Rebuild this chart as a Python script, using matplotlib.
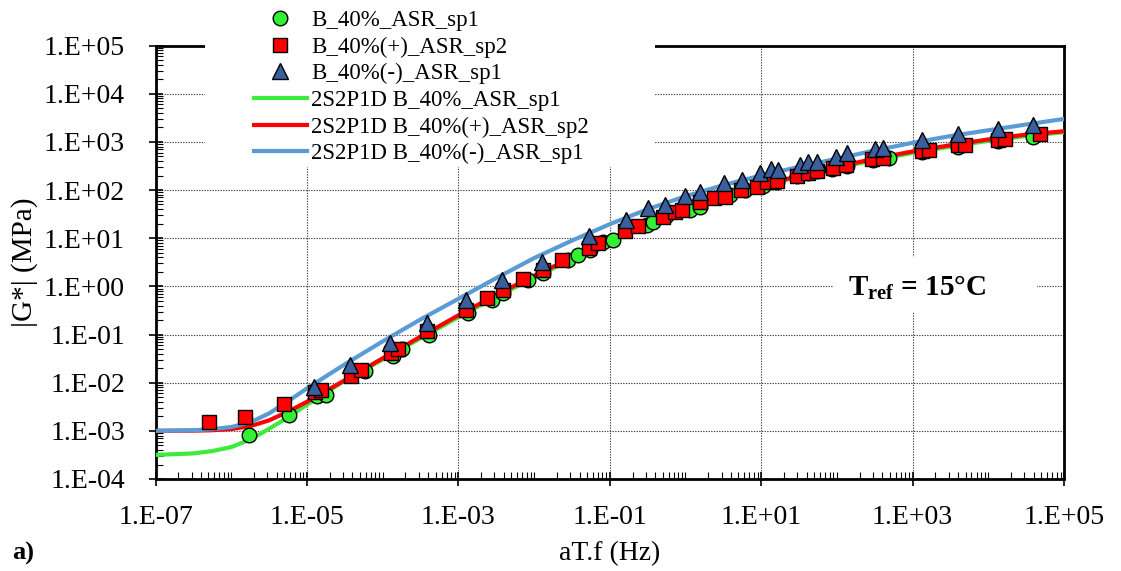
import math
import matplotlib
matplotlib.use("Agg")
import matplotlib.pyplot as plt
from matplotlib.ticker import LogLocator, FixedLocator, FuncFormatter, NullFormatter
from matplotlib.patches import Rectangle

plt.rcParams['font.family'] = ['Liberation Serif', 'DejaVu Serif']
plt.rcParams['mathtext.fontset'] = 'custom'
plt.rcParams['mathtext.rm'] = 'Liberation Serif'
plt.rcParams['mathtext.bf'] = 'Liberation Serif:bold'

# ---------------- data ----------------
labels_pts = ["B_40%_ASR_sp1", "B_40%(+)_ASR_sp2", "B_40%(-)_ASR_sp1"]
labels_fit = ["2S2P1D B_40%_ASR_sp1", "2S2P1D B_40%(+)_ASR_sp2", "2S2P1D B_40%(-)_ASR_sp1"]

green_f = [1.73e-6, 5.86e-6, 1.35e-5, 1.79e-5, 5.86e-5, 1.36e-4, 1.79e-4, 4.1e-4,
           1.36e-3, 2.76e-3, 3.94e-3, 8.41e-3, 1.33e-2, 2.84e-2, 3.85e-2, 5.5e-2,
           8.22e-2, 0.111, 0.308, 0.377, 0.555, 1.15, 1.56, 3.89, 6.12, 10.5, 16,
           30, 42, 55, 85, 135, 300, 490, 1350, 4000, 13500, 39000]
green_G = [8.3e-4, 2.13e-3, 5.2e-3, 5.6e-3, 1.71e-2, 3.63e-2, 4.98e-2, 9.86e-2,
           0.286, 0.525, 0.72, 1.36, 1.88, 3.55, 4.5, 5.7,
           8.51, 9.23, 18.9, 22.1, 28.8, 38.5, 45.2, 79, 100, 120, 148,
           195, 224, 245, 270, 316, 427, 458, 610, 795, 1047, 1260]

red_f = [5.09e-7, 1.52e-6, 5.04e-6, 1.28e-5, 1.53e-5, 3.79e-5, 5.19e-5, 1.29e-4,
         1.58e-4, 3.82e-4, 1.26e-3, 2.37e-3, 3.94e-3, 7.23e-3, 1.33e-2, 2.37e-2,
         5.37e-2, 7.06e-2, 0.159, 0.239, 0.511, 0.730, 0.893, 1.56, 2.39, 3.33,
         5.38, 8.75, 11.9, 16.1, 30.1, 42.1, 54.2, 87.9, 132, 289, 407, 1340,
         1640, 3980, 4970, 13300, 16700, 47900]
red_G = [1.49e-3, 1.93e-3, 3.65e-3, 6.27e-3, 7.13e-3, 1.39e-2, 1.85e-2, 4.11e-2,
         4.98e-2, 0.116, 0.325, 0.569, 0.845, 1.41, 2.20, 3.55,
         6.38, 7.87, 14.4, 18.0, 28.1, 35.6, 38.6, 57.4, 67.6, 72.9,
         100, 117, 149, 157, 196, 230, 252, 290, 324, 432, 459, 638,
         670, 849, 879, 1110, 1150, 1460]

blue_f = [1.25e-5, 3.7e-5, 1.25e-4, 3.8e-4, 1.26e-3, 3.8e-3, 1.26e-2, 5.4e-2,
          0.164, 0.324, 0.54, 0.99, 1.56, 3.24, 5.5, 9.7, 13.4, 16.6, 32.7,
          41.2, 54.2, 98, 135, 320, 407, 1340, 3980, 13300, 39100]
blue_G = [8.3e-3, 2.35e-2, 6.6e-2, 0.173, 0.51, 1.36, 3.27, 11.2,
          24.0, 41.9, 49.1, 75.5, 92.7, 138, 162, 223, 270, 261, 332,
          388, 388, 493, 579, 716, 750, 1110, 1460, 1880, 2280]

curve_f = [1e-7, 3.16e-7, 5.62e-7, 1e-6, 1.78e-6, 3.16e-6, 5.62e-6, 1e-5, 3.16e-5,
           1e-4, 3.16e-4, 1e-3, 3.16e-3, 1e-2, 3.16e-2, 1e-1, 3.16e-1, 1, 3.16, 10,
           31.6, 100, 316, 1e3, 3.16e3, 1e4, 3.16e4, 1e5]
fit_green = [3.16e-4, 3.4e-4, 3.8e-4, 4.6e-4, 6.6e-4, 1.1e-3, 1.9e-3, 3.5e-3, 1.10e-2,
             3.02e-2, 8.32e-2, 0.229, 0.603, 1.51, 3.63, 8.51, 18.2, 36.3, 67.6, 117,
             191, 288, 417, 589, 794, 1047, 1318, 1585]
fit_red = [1.0e-3, 1.01e-3, 1.03e-3, 1.09e-3, 1.25e-3, 1.65e-3, 2.5e-3, 4.0e-3, 1.12e-2,
           3.2e-2, 9.0e-2, 0.25, 0.66, 1.66, 3.9, 9.6, 20.4, 39.8, 74.1, 126,
           195, 302, 447, 631, 851, 1122, 1413, 1660]
fit_blue = [1.0e-3, 1.03e-3, 1.08e-3, 1.2e-3, 1.5e-3, 2.3e-3, 4.1e-3, 7.6e-3, 2.4e-2,
            7.2e-2, 0.205, 0.55, 1.48, 3.85, 8.9, 19.5, 39.8, 74.1, 126, 200,
            302, 447, 661, 955, 1318, 1738, 2291, 2985]

x_ticks = [1e-7, 1e-5, 1e-3, 1e-1, 1e1, 1e3, 1e5]
y_ticks = [1e-4, 1e-3, 1e-2, 1e-1, 1e0, 1e1, 1e2, 1e3, 1e4, 1e5]

# ---------------- figure ----------------
W, H = 1121, 571
fig = plt.figure(figsize=(W / 100, H / 100), dpi=100)
L, R, T, B = 155.5, 1064, 45.5, 479
ax = fig.add_axes([L / W, 1 - B / H, (R - L) / W, (B - T) / H])

c_green_line = '#3CEB3C'
c_red = '#FF0000'
c_blue_line = '#5B9BD5'
c_green_pt = '#33F033'
c_blue_pt = '#3A5F9F'

lg, = ax.plot(curve_f, fit_green, color=c_green_line, lw=3, zorder=3, label=labels_fit[0])
lr, = ax.plot(curve_f, fit_red, color=c_red, lw=3, zorder=3.1, label=labels_fit[1])
lb, = ax.plot(curve_f, fit_blue, color=c_blue_line, lw=3, zorder=3.2, label=labels_fit[2])

pg, = ax.plot(green_f, green_G, 'o', ms=10.5, mfc=c_green_pt, mec='black', mew=1.0,
              zorder=4, label=labels_pts[0])
pr, = ax.plot(red_f, red_G, 's', ms=10.5, mfc=c_red, mec='black', mew=1.0,
              zorder=5, label=labels_pts[1])
pb, = ax.plot(blue_f, blue_G, '^', ms=11, mfc=c_blue_pt, mec='black', mew=1.0,
              zorder=6, label=labels_pts[2])

ax.set_xscale('log')
ax.set_yscale('log')
ax.set_xlim(1e-7, 1e5)
ax.set_ylim(1e-4, 1e5)

fmt = FuncFormatter(lambda v, p: "1.E%+03d" % round(math.log10(v)))
ax.xaxis.set_major_locator(FixedLocator(x_ticks))
ax.xaxis.set_major_formatter(fmt)
ax.xaxis.set_minor_locator(LogLocator(base=10, subs=[1, 2, 3, 4, 5, 6, 7, 8, 9], numticks=100))
ax.xaxis.set_minor_formatter(NullFormatter())
ax.yaxis.set_major_locator(FixedLocator(y_ticks))
ax.yaxis.set_major_formatter(fmt)
ax.yaxis.set_minor_locator(LogLocator(base=10, subs=[2, 3, 4, 5, 6, 7, 8, 9], numticks=100))
ax.yaxis.set_minor_formatter(NullFormatter())

ax.tick_params(which='major', direction='inout', length=10, width=1.2, labelsize=20,
               colors='black')
ax.tick_params(axis='x', which='major', pad=14)
ax.tick_params(axis='y', which='major', pad=17)
ax.tick_params(which='minor', direction='in', length=5, width=0.8)

for s in ax.spines.values():
    s.set_linewidth(2.0)
    s.set_color('black')

ax.grid(True, which='major', linestyle=(0, (1.2, 1.2)), color='#444444', linewidth=0.8)
ax.set_axisbelow(True)

ax.set_xlabel("aT.f (Hz)", fontsize=20, labelpad=8)
ax.set_ylabel("|G*| (MPa)", fontsize=21, labelpad=4)

# T_ref annotation with white box
ax.add_patch(Rectangle((0.7457, 0.3852), 0.2246, 0.1269, transform=ax.transAxes,
                       facecolor='white', edgecolor='none', zorder=2))
ax.text(0.762, 0.4245, r"T$_{\mathbf{ref}}$ = 15°C", transform=ax.transAxes,
        fontsize=21, fontweight='bold', ha='left', va='baseline', zorder=7)

fig.text(12 / W, 1 - 560 / H, "a)", fontsize=19, fontweight='bold', ha='left', va='baseline')

# legend cover + legend
fig.patches.append(Rectangle((205 / W, 1 - 167 / H), (655 - 205) / W, 167 / H,
                             transform=fig.transFigure, facecolor='white',
                             edgecolor='none', zorder=1))
fig.legend(handles=[pg, pr, pb, lg, lr, lb], loc='upper left',
           bbox_to_anchor=(254 / W, 1 - 10 / H), frameon=False, fontsize=16.5,
           borderaxespad=0, borderpad=0, handlelength=2.3, handletextpad=0.2,
           labelspacing=0.24, numpoints=1)

fig.savefig("out.png", dpi=100)
